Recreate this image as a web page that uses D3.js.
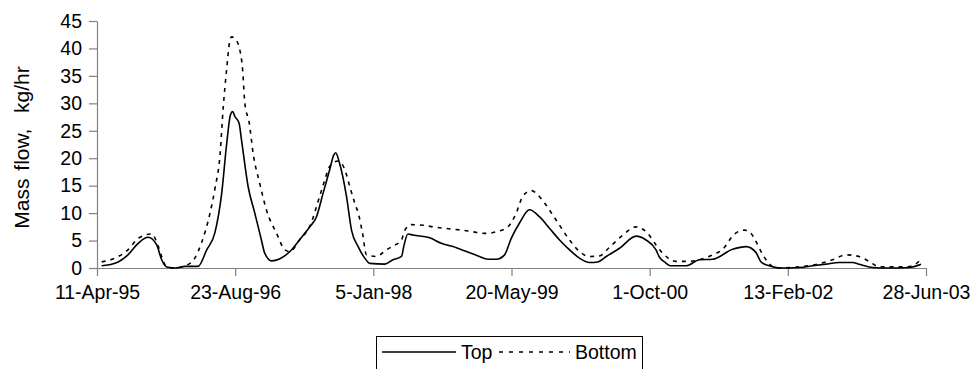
<!DOCTYPE html>
<html>
  <head>
    <meta charset="utf-8">
    <title>Mass flow</title>
    <script src="https://d3js.org/d3.v7.min.js"></script>
    <style>
      body { margin: 0; background: #fff; }
      svg text { font-family: "Liberation Sans", Arial, sans-serif; fill: #000; }
    </style>
  </head>
  <body>
    <script>
      // tick labels on the date axis (500 days apart)
      const xTickLabels = ["11-Apr-95", "23-Aug-96", "5-Jan-98", "20-May-99", "1-Oct-00", "13-Feb-02", "28-Jun-03"];
      const yTicks = [0, 5, 10, 15, 20, 25, 30, 35, 40, 45];

      // "Top" series
      const topDates = ["1995-04-28","1995-06-15","1995-08-01","1995-09-07","1995-10-13","1995-11-13","1995-12-01","1995-12-19",
        "1996-01-18","1996-02-23","1996-04-11","1996-05-12","1996-06-11","1996-07-05","1996-07-23","1996-08-06","1996-08-14",
        "1996-08-22","1996-09-06","1996-09-15","1996-10-09","1996-11-02","1996-11-26","1996-12-08",
        "1997-01-02","1997-02-01","1997-03-09","1997-04-14","1997-05-20","1997-06-13","1997-07-07","1997-07-31","1997-08-15",
        "1997-08-22","1997-09-03","1997-09-30","1997-10-18","1997-11-11","1997-12-05","1997-12-23",
        "1998-02-15","1998-03-17","1998-04-17","1998-04-25","1998-05-10","1998-05-29","1998-07-28","1998-09-08","1998-10-20","1998-12-08",
        "1999-01-19","1999-02-24","1999-03-26","1999-04-25","1999-05-19","1999-06-18","1999-07-24","1999-08-30","1999-10-05","1999-11-10","1999-12-16",
        "2000-01-21","2000-02-26","2000-03-27","2000-04-27","2000-06-14","2000-08-13","2000-09-18","2000-10-24","2000-11-05","2000-11-24","2000-12-18",
        "2001-02-10","2001-03-30","2001-05-17","2001-07-28","2001-09-15","2001-10-21","2001-11-08","2001-12-08",
        "2002-01-13","2002-03-27","2002-05-14","2002-07-01","2002-08-18","2002-10-05","2002-10-29","2002-12-17",
        "2003-02-15","2003-04-28","2003-06-10"];
      const topValues = [0.4,0.85,2.4,4.5,5.6,4.2,1.5,0.2,
        0,0.3,0.3,3.3,6.5,13.5,22.5,27.9,28.5,
        27.6,26.4,23.3,14.8,10,5.1,2.7,
        1.3,1.7,3.0,5.2,7.5,9.3,13.6,17.9,20.6,
        21,19.4,13,6.9,3.9,1.8,0.85,
        0.7,1.5,2.1,3.9,6.2,6.0,5.5,4.5,3.9,3.0,
        2.2,1.6,1.6,2.4,5.4,8.2,10.6,9.3,7.2,5.1,3.3,
        1.8,1.0,1.1,2.1,3.6,5.8,5.1,3.3,2.0,1.1,0.4,
        0.4,1.5,1.6,3.4,3.9,2.8,1.1,0.4,
        0,0.1,0.4,0.7,1.0,1.0,0.7,0.1,
        0,0.1,0.7];

      // "Bottom" series
      const bottomDates = ["1995-04-28","1995-06-15","1995-08-01","1995-09-07","1995-10-26","1995-11-19","1995-12-01","1995-12-19",
        "1996-01-18","1996-02-29","1996-03-30","1996-04-24","1996-05-24","1996-06-11","1996-06-29","1996-07-11","1996-07-23",
        "1996-08-04","1996-08-10","1996-08-22","1996-09-09","1996-09-19","1996-09-27","1996-10-13","1996-10-27","1996-11-20","1996-12-14",
        "1997-01-20","1997-02-19","1997-03-09","1997-04-14","1997-05-20","1997-06-25","1997-07-13","1997-07-31","1997-08-30",
        "1997-09-24","1997-10-12","1997-10-30","1997-11-13","1997-11-27","1997-12-11",
        "1998-01-16","1998-02-21","1998-03-17","1998-04-17","1998-04-29","1998-05-23","1998-07-04","1998-08-09","1998-09-26","1998-12-08",
        "1999-02-18","1999-03-26","1999-05-07","1999-06-06","1999-06-30","1999-07-31","1999-08-18","1999-09-17","1999-10-29","1999-12-16",
        "2000-01-21","2000-02-26","2000-04-02","2000-05-09","2000-06-26","2000-08-13","2000-09-24","2000-10-24","2000-11-17",
        "2001-01-05","2001-02-16","2001-03-30","2001-05-17","2001-06-22","2001-08-04","2001-09-09","2001-09-27","2001-10-21","2001-11-08","2001-12-02",
        "2002-01-01","2002-03-02","2002-06-07","2002-07-25","2002-09-11","2002-10-29","2002-12-04",
        "2003-01-10","2003-04-16","2003-05-10","2003-06-10"];
      const bottomValues = [1.1,1.8,3.3,5.4,6.2,3.9,2.1,0.2,
        0,0.5,1.8,4.7,10,14.5,20.5,29.4,36.1,
        41.5,42.1,41.8,39.7,36.1,30,26.4,20.9,15.4,10.6,
        6.3,3.3,3.0,5.2,7.6,13.1,16,18.5,19.5,
        17.9,14.8,11.8,9.7,6.3,2.4,
        2.1,3.3,4.0,5.1,6.9,7.9,7.8,7.5,7.2,6.8,
        6.3,6.6,7.5,10,13.1,14.1,13.6,11.8,8.7,5.1,
        3.0,2.1,2.2,3.8,6.0,7.5,6.3,4.2,2.7,
        1.2,1.2,1.5,2.4,3.4,6.2,6.9,6.6,4.8,3.0,1.1,
        0,0.1,0.8,1.5,2.4,2.1,1.2,
        0.2,0.2,0.4,1.6];

      const seriesNames = ["Top", "Bottom"];

      const width = 974, height = 369;
      const margin = {left: 97, right: 48, top: 21, bottom: 101};
      const fontSize = 19.5;

      const parseIso = d3.timeParse("%Y-%m-%d");
      const parseTick = d3.timeParse("%d-%b-%y");
      const tickDates = xTickLabels.map(parseTick);

      const svg = d3.select("body").append("svg")
          .attr("width", width)
          .attr("height", height);

      const x = d3.scaleTime()
          .domain([tickDates[0], tickDates[tickDates.length - 1]])
          .range([margin.left, width - margin.right]);
      const y = d3.scaleLinear()
          .domain([0, 45])
          .range([height - margin.bottom, margin.top]);

      // axes
      const xAxis = svg.append("g")
          .attr("transform", `translate(0,${height - margin.bottom})`)
          .call(d3.axisBottom(x)
            .tickValues(tickDates)
            .tickFormat((d, i) => xTickLabels[i])
            .tickSizeInner(8).tickSizeOuter(0).tickPadding(9));
      const yAxis = svg.append("g")
          .attr("transform", `translate(${margin.left},0)`)
          .call(d3.axisLeft(y)
            .tickValues(yTicks)
            .tickSizeInner(8).tickSizeOuter(0).tickPadding(7));
      [xAxis, yAxis].forEach(g => {
        g.selectAll("path, line").attr("stroke", "#808080").attr("stroke-width", 1.2);
        g.selectAll("text").attr("font-size", fontSize)
            .attr("font-family", "Liberation Sans, Arial, sans-serif").attr("fill", "#000");
      });

      svg.append("text")
          .attr("transform", `translate(29,${(margin.top + height - margin.bottom) / 2 + 3}) rotate(-90)`)
          .attr("text-anchor", "middle")
          .attr("font-size", 21)
          .attr("word-spacing", 2)
          .text("Mass flow,  kg/hr")
          .style("white-space", "pre");

      // lines
      const line = d3.line()
          .x(d => x(d.date))
          .y(d => y(d.value))
          .curve(d3.curveMonotoneX);

      const topData = topDates.map((d, i) => ({date: parseIso(d), value: topValues[i]}));
      const bottomData = bottomDates.map((d, i) => ({date: parseIso(d), value: bottomValues[i]}));

      svg.append("path")
          .datum(bottomData)
          .attr("d", line)
          .attr("fill", "none")
          .attr("stroke", "#000")
          .attr("stroke-width", 1.6)
          .attr("stroke-dasharray", "4,5");

      svg.append("path")
          .datum(topData)
          .attr("d", line)
          .attr("fill", "none")
          .attr("stroke", "#000")
          .attr("stroke-width", 1.6);

      // legend
      const legend = svg.append("g").attr("transform", "translate(376,336)");
      legend.append("rect")
          .attr("x", 0.5).attr("y", 0.5)
          .attr("width", 266).attr("height", 40)
          .attr("fill", "#fff")
          .attr("stroke", "#000")
          .attr("stroke-width", 1);
      legend.append("line")
          .attr("x1", 6).attr("x2", 80).attr("y1", 16).attr("y2", 16)
          .attr("stroke", "#000").attr("stroke-width", 1.6);
      legend.append("text")
          .attr("x", 85).attr("y", 23)
          .attr("font-size", fontSize)
          .text(seriesNames[0]);
      legend.append("line")
          .attr("x1", 123).attr("x2", 194).attr("y1", 16).attr("y2", 16)
          .attr("stroke", "#000").attr("stroke-width", 1.6)
          .attr("stroke-dasharray", "4,6");
      legend.append("text")
          .attr("x", 199).attr("y", 23)
          .attr("font-size", fontSize)
          .text(seriesNames[1]);
    </script>
  </body>
</html>
